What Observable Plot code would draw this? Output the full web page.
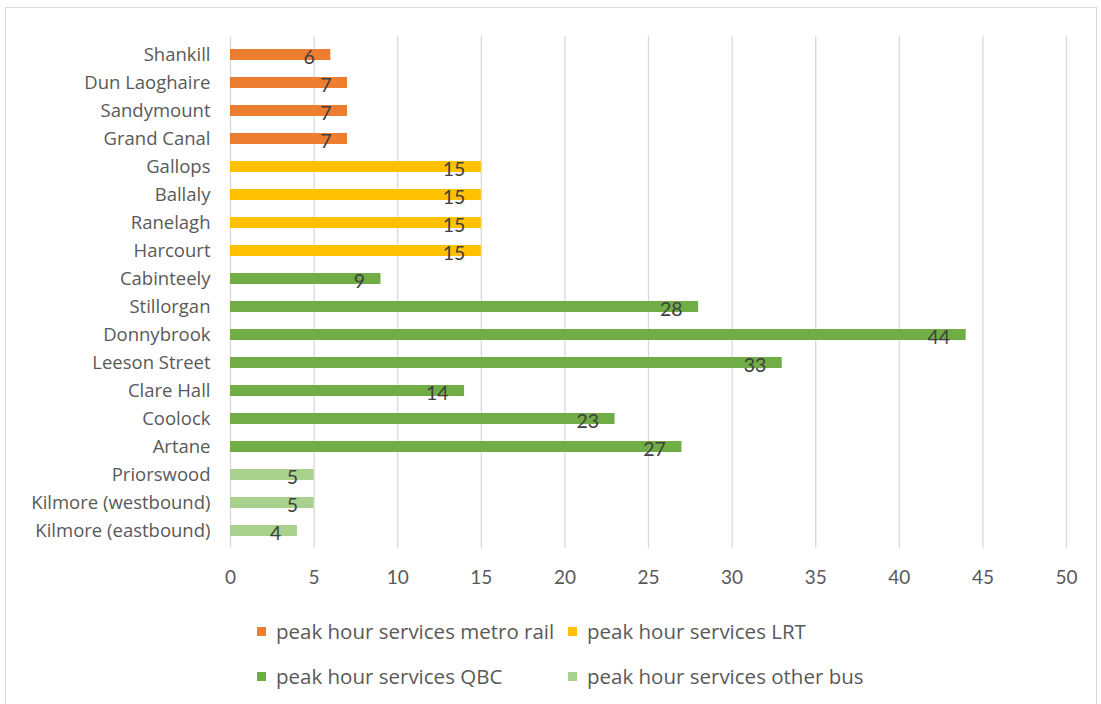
<!DOCTYPE html>
<html><head><meta charset="utf-8">
<script src="https://cdn.jsdelivr.net/npm/d3@7"></script>
<script src="https://cdn.jsdelivr.net/npm/@observablehq/plot@0.6"></script>
<style>
body{margin:0;background:#fff;font-family:"Open Sans",Lato,sans-serif;}
#frame{position:absolute;left:5px;top:7px;width:1092px;height:710px;border:1.5px solid #d9d9d9;box-sizing:border-box;}
#chart{position:absolute;left:0;top:0;}
#legend{position:absolute;left:0;top:0;width:1101px;height:704px;pointer-events:none;color:#595959;font-size:20.5px;font-family:"Open Sans",sans-serif;}
.li{position:absolute;display:flex;align-items:center;white-space:nowrap;}
.sw{width:9px;height:9px;margin-right:10px;}
</style></head>
<body>
<div id="frame"></div>
<div id="chart"></div>
<div id="legend"></div>
<script>
const categories = ["Shankill","Dun Laoghaire","Sandymount","Grand Canal","Gallops","Ballaly","Ranelagh","Harcourt","Cabinteely","Stillorgan","Donnybrook","Leeson Street","Clare Hall","Coolock","Artane","Priorswood","Kilmore (westbound)","Kilmore (eastbound)"];
const values = [6,7,7,7,15,15,15,15,9,28,44,33,14,23,27,5,5,4];
const seriesOf = ["peak hour services metro rail","peak hour services metro rail","peak hour services metro rail","peak hour services metro rail","peak hour services LRT","peak hour services LRT","peak hour services LRT","peak hour services LRT","peak hour services QBC","peak hour services QBC","peak hour services QBC","peak hour services QBC","peak hour services QBC","peak hour services QBC","peak hour services QBC","peak hour services other bus","peak hour services other bus","peak hour services other bus"];
const seriesNames = ["peak hour services metro rail","peak hour services LRT","peak hour services QBC","peak hour services other bus"];
const seriesColors = ["#ED7D31","#FFC000","#70AD47","#A9D18E"];
const xTicks = [0,5,10,15,20,25,30,35,40,45,50];

const data = categories.map((c,i)=>({category:c, value:values[i], series:seriesOf[i]}));

const chart = Plot.plot({
  width: 1101, height: 600,
  marginLeft: 230, marginRight: 35, marginTop: 36, marginBottom: 52,
  style: {fontFamily: "Lato, 'Open Sans', sans-serif", background: "transparent"},
  x: {domain: [0,50], ticks: xTicks, label: null},
  y: {domain: categories, paddingInner: 0.62, paddingOuter: 0.35, label: null},
  color: {domain: seriesNames, range: seriesColors},
  marks: [
    Plot.gridX(xTicks, {stroke: "#d9d9d9", strokeOpacity: 1, strokeWidth: 1.3}),
    Plot.barX(data, {x: "value", y: "category", fill: "series"}),
    Plot.text(data, {x: "value", y: "category", text: d => String(d.value), textAnchor: "end", dx: -16, dy: 3, fill: "#404040", fontSize: 19.5}),
    Plot.axisX(xTicks, {tickSize: 0, tickPadding: 22, fontSize: 19, color: "#595959", fill: "#595959"}),
    Plot.axisY({tickSize: 0, tickPadding: 20, fontSize: 18.5, fill: "#595959", fontFamily: "'Open Sans', sans-serif"})
  ]
});
document.getElementById("chart").appendChild(chart);

const legend = document.getElementById("legend");
const pos = [[257,631],[568,631],[257,676],[568,676]];
seriesNames.forEach((n,i)=>{
  const el = document.createElement("div");
  el.className = "li";
  el.style.left = pos[i][0]+"px";
  el.style.top = (pos[i][1]-14)+"px";
  el.innerHTML = `<span class="sw" style="background:${seriesColors[i]}"></span><span>${n}</span>`;
  legend.appendChild(el);
});
</script>
</body></html>
